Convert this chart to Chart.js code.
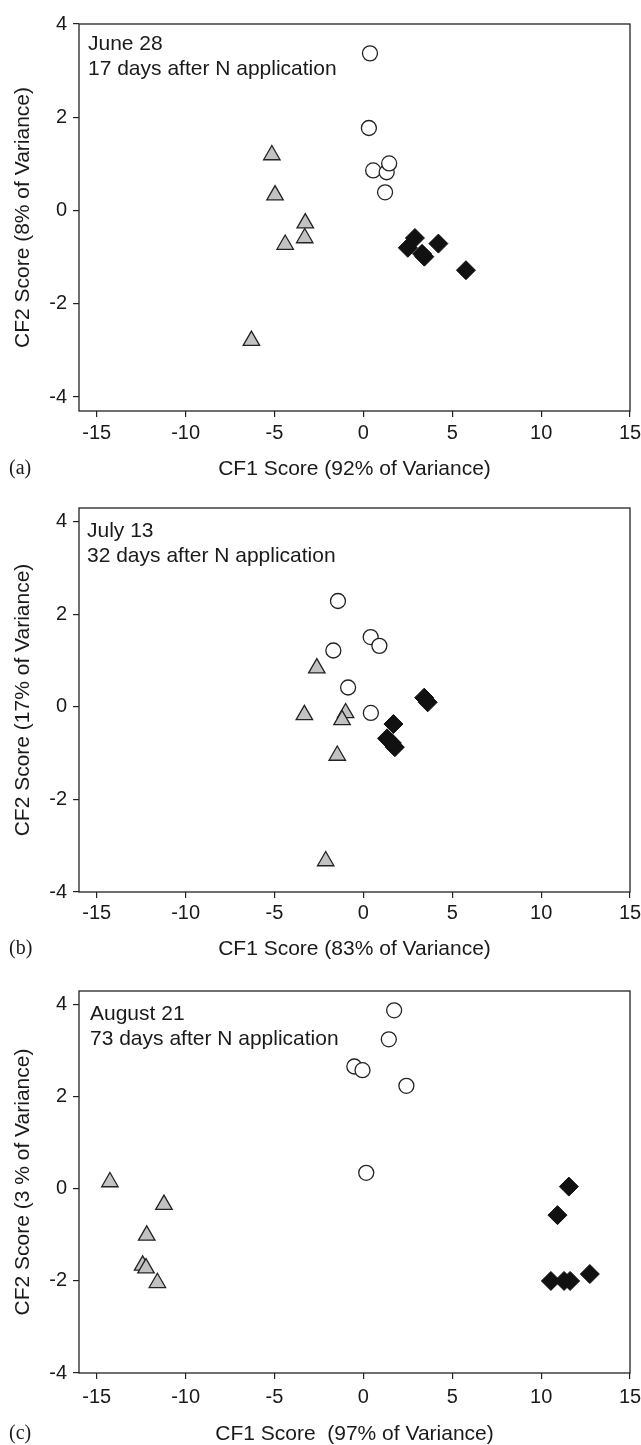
<!DOCTYPE html>
<html><head><meta charset="utf-8">
<script src="https://cdn.jsdelivr.net/npm/chart.js@4.4.1/dist/chart.umd.min.js"></script>
<style>body{margin:0;background:#fff;}canvas{display:block;}</style>
</head><body>
<canvas id="ca" width="641" height="480"></canvas>
<canvas id="cb" width="641" height="480"></canvas>
<canvas id="cc" width="641" height="485"></canvas>
<script>
// ---- tick labels ----
const xTickValues = [-15, -10, -5, 0, 5, 10, 15];
const yTickValues = [-4, -2, 0, 2, 4];

// ---- panel (a) June 28 ----
const aOpenX = [0.37, 0.31, 0.55, 1.31, 1.45, 1.22];
const aOpenY = [3.37, 1.77, 0.86, 0.82, 1.01, 0.39];
const aTriX  = [-5.15, -4.97, -3.27, -3.30, -4.40, -6.30];
const aTriY  = [1.19, 0.33, -0.27, -0.59, -0.73, -2.79];
const aDiaX  = [2.90, 2.50, 3.43, 4.22, 5.77, 3.30];
const aDiaY  = [-0.59, -0.80, -0.99, -0.71, -1.28, -0.93];

// ---- panel (b) July 13 ----
const bOpenX = [-1.43, 0.41, 0.90, -1.69, -0.86, 0.42];
const bOpenY = [2.29, 1.51, 1.32, 1.22, 0.42, -0.13];
const bTriX  = [-2.62, -3.32, -1.00, -1.20, -1.47, -2.12];
const bTriY  = [0.84, -0.17, -0.13, -0.28, -1.05, -3.33];
const bDiaX  = [3.42, 3.62, 1.69, 1.33, 1.77, 1.60];
const bDiaY  = [0.20, 0.10, -0.37, -0.68, -0.87, -0.78];

// ---- panel (c) August 21 ----
const cOpenX = [1.73, 1.43, -0.51, -0.05, 2.42, 0.16];
const cOpenY = [3.88, 3.25, 2.66, 2.58, 2.24, 0.35];
const cTriX  = [-14.26, -11.22, -12.19, -12.42, -12.23, -11.59];
const cTriY  = [0.15, -0.34, -1.01, -1.66, -1.72, -2.04];
const cDiaX  = [11.56, 10.92, 10.55, 11.29, 11.63, 12.74];
const cDiaY  = [0.05, -0.57, -2.00, -2.00, -2.00, -1.85];

const pts = (xs, ys) => xs.map((x, i) => ({x: x, y: ys[i]}));

const SANS = '"Liberation Sans", Arial, Helvetica, sans-serif';
const SERIF = '"Liberation Serif", "Times New Roman", serif';
const INK = '#222';

const panels = [
  { id: 'ca', h: 480, top: 24, bottom: 411, yMin: -4.3, yMax: 4, tickPad: 4,
    open: pts(aOpenX, aOpenY), tri: pts(aTriX, aTriY), dia: pts(aDiaX, aDiaY),
    note: ['June 28', '17 days after N application'], noteX: 9, noteY: 26,
    xTitle: 'CF1 Score (92% of Variance)', yTitle: 'CF2 Score (8% of Variance)', tag: '(a)' },
  { id: 'cb', h: 480, top: 28, bottom: 412, yMin: -4, yMax: 4.3, tickPad: 3,
    open: pts(bOpenX, bOpenY), tri: pts(bTriX, bTriY), dia: pts(bDiaX, bDiaY),
    note: ['July 13', '32 days after N application'], noteX: 8, noteY: 29,
    xTitle: 'CF1 Score (83% of Variance)', yTitle: 'CF2 Score (17% of Variance)', tag: '(b)' },
  { id: 'cc', h: 485, top: 31, bottom: 413, yMin: -4, yMax: 4.3, tickPad: 6,
    open: pts(cOpenX, cOpenY), tri: pts(cTriX, cTriY), dia: pts(cDiaX, cDiaY),
    note: ['August 21', '73 days after N application'], noteX: 11, noteY: 29,
    xTitle: 'CF1 Score  (97% of Variance)', yTitle: 'CF2 Score (3 % of Variance)', tag: '(c)' }
];

const framePlugin = {
  id: 'frame',
  afterDraw(chart, args, opts) {
    const {ctx, chartArea: a} = chart;
    ctx.save();
    ctx.strokeStyle = INK;
    ctx.lineWidth = 1.3;
    ctx.strokeRect(a.left, a.top, a.right - a.left, a.bottom - a.top);
    // annotation text
    ctx.fillStyle = '#1a1a1a';
    ctx.font = '21px ' + SANS;
    ctx.textAlign = 'left';
    ctx.textBaseline = 'alphabetic';
    opts.note.forEach((t, i) => ctx.fillText(t, a.left + opts.noteX, a.top + opts.noteY + i * 25));
    // panel tag
    ctx.font = '20px ' + SERIF;
    ctx.textBaseline = 'middle';
    ctx.fillText(opts.tag, 9, chart.height - 11);
    ctx.restore();
  }
};

panels.forEach(p => {
  const ctx = document.getElementById(p.id).getContext('2d');
  new Chart(ctx, {
    type: 'scatter',
    data: {
      datasets: [
        { label: 'open', data: p.open, pointStyle: 'circle', pointRadius: 7.5, pointHoverRadius: 7.5,
          backgroundColor: '#ffffff', borderColor: INK, borderWidth: 1.3 },
        { label: 'triangle', data: p.tri, pointStyle: 'triangle', pointRadius: 9.5, pointHoverRadius: 9.5,
          backgroundColor: '#c2c2c2', borderColor: INK, borderWidth: 1.3 },
        { label: 'diamond', data: p.dia, pointStyle: 'rectRot', pointRadius: 9.5, pointHoverRadius: 9.5,
          backgroundColor: '#111111', borderColor: '#111111', borderWidth: 1 }
      ]
    },
    options: {
      responsive: false,
      animation: false,
      devicePixelRatio: 1,
      layout: { padding: { top: p.top, right: 11, left: 0, bottom: 0 } },
      plugins: {
        legend: { display: false },
        tooltip: { enabled: false },
        frame: { note: p.note, noteX: p.noteX, noteY: p.noteY, tag: p.tag }
      },
      scales: {
        x: {
          type: 'linear', position: 'bottom', min: -16, max: 15,
          afterBuildTicks: s => { s.ticks = xTickValues.map(v => ({value: v})); },
          afterFit: s => { s.height = p.h - p.bottom; s.paddingLeft = 0; s.paddingRight = 0; },
          grid: { display: true, drawOnChartArea: false, drawTicks: true, tickLength: 6, color: INK, lineWidth: 1.2 },
          border: { display: false },
          ticks: { color: '#1a1a1a', font: { size: 20, family: SANS }, padding: p.tickPad, maxRotation: 0 },
          title: { display: true, text: p.xTitle, color: '#1a1a1a',
                   font: { size: 21, family: SANS, lineHeight: 1 }, padding: { top: 0, bottom: 0 } }
        },
        y: {
          type: 'linear', position: 'left', min: p.yMin, max: p.yMax,
          afterBuildTicks: s => { s.ticks = yTickValues.map(v => ({value: v})); },
          afterFit: s => { s.width = 79; s.paddingTop = 0; s.paddingBottom = 0; },
          grid: { display: true, drawOnChartArea: false, drawTicks: true, tickLength: 6, color: INK, lineWidth: 1.2 },
          border: { display: false },
          ticks: { color: '#1a1a1a', font: { size: 20, family: SANS }, padding: 6 },
          title: { display: true, text: p.yTitle, color: '#1a1a1a',
                   font: { size: 21, family: SANS, lineHeight: 1 }, padding: { top: 13, bottom: 0 } }
        }
      }
    },
    plugins: [framePlugin]
  });
});
</script>
</body></html>
